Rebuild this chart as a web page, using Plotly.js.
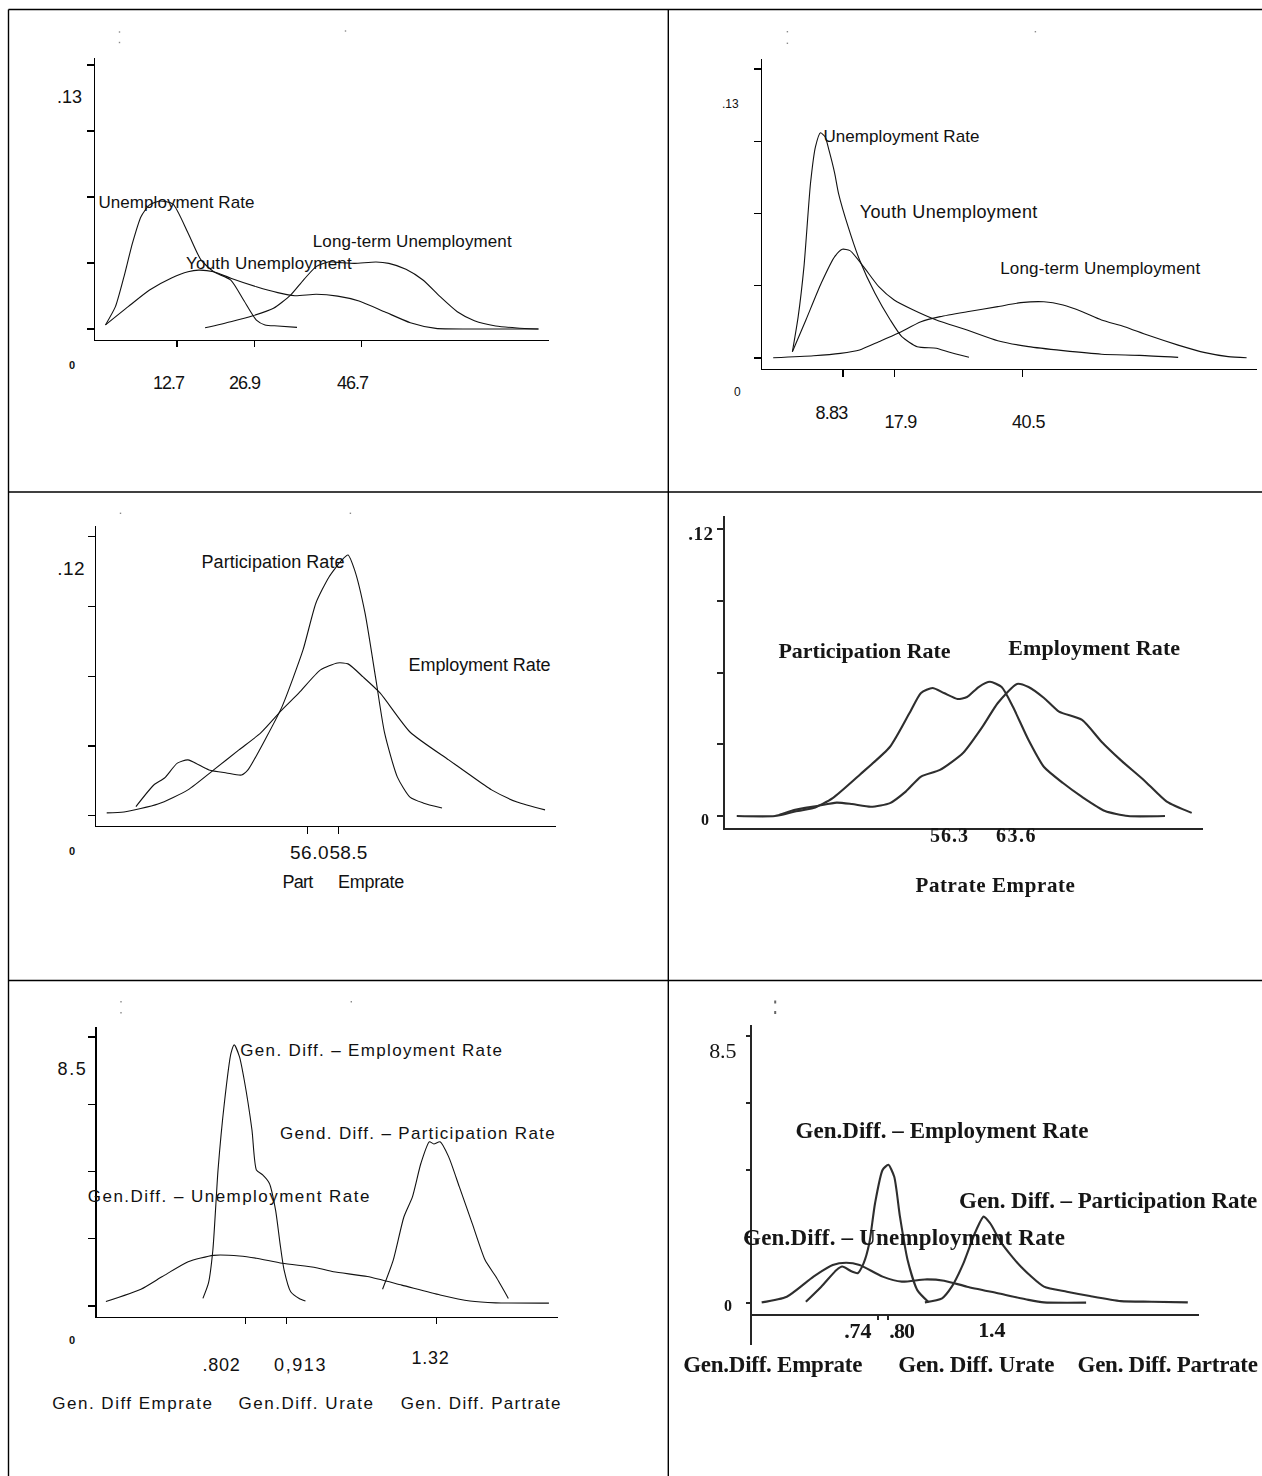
<!DOCTYPE html>
<html>
<head>
<meta charset="utf-8">
<script src="https://cdn.plot.ly/plotly-3.0.1.min.js"></script>
<style>
  html, body { margin: 0; padding: 0; background: #fff; }
  #chart { width: 1262px; height: 1476px; }
</style>
</head>
<body>
<div id="chart"></div>
<script>
// ---------- Kernel density estimates ----------

// Panel 1: unemployment indicators (period A)
const p1UnempX = [-0.47, 1.36, 2.94, 4.50, 6.07, 7.65, 9.57, 11.96, 14.73, 17.12, 19.46, 22.61, 24.96, 27.32, 28.91, 31.26, 34.80];
const p1UnempY = [0.0020, 0.0110, 0.0258, 0.0423, 0.0553, 0.0611, 0.0630, 0.0615, 0.0473, 0.0340, 0.0282, 0.0241, 0.0143, 0.0044, 0.0020, 0.0015, 0.0008];
const p1YouthX = [-0.47, 3.71, 7.65, 11.60, 14.73, 16.70, 19.46, 22.61, 27.32, 31.26, 34.41, 38.34, 42.28, 46.22, 50.93, 55.67, 60.38, 66.66, 79.27];
const p1YouthY = [0.0020, 0.0110, 0.0192, 0.0250, 0.0282, 0.0290, 0.0282, 0.0250, 0.0208, 0.0179, 0.0164, 0.0171, 0.0162, 0.0138, 0.0085, 0.0031, 0.0003, 0, 0];
const p1LongX = [17.87, 22.61, 26.53, 30.47, 33.62, 35.98, 38.34, 40.69, 43.07, 45.43, 49.35, 51.72, 54.87, 58.00, 61.17, 64.32, 67.47, 71.39, 75.32, 79.27];
const p1LongY = [0.0006, 0.0036, 0.0064, 0.0102, 0.0167, 0.0241, 0.0307, 0.0331, 0.0326, 0.0323, 0.0330, 0.0323, 0.0294, 0.0241, 0.0159, 0.0085, 0.0041, 0.0015, 0.0005, 0];
const p1XTicks = [12.7, 26.9, 46.7];
const p1YTicks = [0, 0.0325, 0.065, 0.0975, 0.13];

// Panel 2: unemployment indicators (period B)
const p2UnempX = [-0.08, 0.94, 1.96, 3.11, 3.99, 4.87, 5.68, 6.35, 7.37, 8.04, 9.73, 11.75, 14.46, 17.16, 19.18, 21.89, 25.27, 27.30, 31.01];
const p2UnempY = [0.0028, 0.0186, 0.0411, 0.0786, 0.0951, 0.1013, 0.0995, 0.0936, 0.0831, 0.0741, 0.0591, 0.0441, 0.0291, 0.0171, 0.0096, 0.0051, 0.0044, 0.0028, 0.0003];
const p2YouthX = [-0.08, 2.30, 4.99, 7.37, 8.71, 10.06, 12.44, 15.13, 17.84, 21.22, 25.27, 30.68, 36.08, 41.49, 47.58, 54.34, 61.08, 67.84];
const p2YouthY = [0.0028, 0.0171, 0.0336, 0.0456, 0.0489, 0.0483, 0.0411, 0.0321, 0.0261, 0.0216, 0.0171, 0.0126, 0.0078, 0.0051, 0.0033, 0.0017, 0.0012, 0.0003];
const p2LongX = [-3.46, 3.64, 8.37, 11.75, 15.13, 18.51, 22.56, 25.94, 30.68, 36.08, 40.13, 44.20, 47.58, 50.96, 54.34, 58.39, 62.44, 67.84, 72.58, 76.65, 79.89];
const p2LongY = [0.0001, 0.0010, 0.0021, 0.0036, 0.0073, 0.0111, 0.0163, 0.0186, 0.0208, 0.0231, 0.0249, 0.0253, 0.0238, 0.0208, 0.0171, 0.0141, 0.0103, 0.0058, 0.0024, 0.0006, 0.0001];
const p2XTicks = [8.83, 17.9, 40.5];
const p2YTicks = [0, 0.0325, 0.065, 0.0975, 0.13];

// Panel 3: participation and employment rates (period A)
const p3PartX = [42.06, 43.51, 44.38, 45.42, 46.28, 47.99, 49.41, 50.63, 51.15, 52.53, 53.91, 55.62, 56.67, 57.73, 58.78, 59.27, 59.81, 60.65, 61.54, 62.24, 63.28, 64.30, 65.36, 66.90];
const p3PartY = [0.0039, 0.0132, 0.0162, 0.0226, 0.0240, 0.0197, 0.0184, 0.0175, 0.0197, 0.0326, 0.0468, 0.0713, 0.0915, 0.1027, 0.1100, 0.1121, 0.1056, 0.0872, 0.0584, 0.0356, 0.0166, 0.0080, 0.0055, 0.0033];
const p3EmpX = [39.69, 41.09, 43.85, 46.28, 48.37, 50.42, 52.19, 53.91, 55.29, 57.04, 58.43, 59.27, 60.49, 61.87, 64.30, 67.44, 68.83, 70.92, 72.99, 75.26];
const p3EmpY = [0.0012, 0.0016, 0.0050, 0.0111, 0.0197, 0.0283, 0.0356, 0.0455, 0.0528, 0.0627, 0.0657, 0.0653, 0.0597, 0.0528, 0.0360, 0.0240, 0.0188, 0.0111, 0.0059, 0.0025];
const p3XTicks = [56.0, 58.5];
const p3YTicks = [0, 0.03, 0.06, 0.09, 0.12];

// Panel 4: participation and employment rates (period B)
const p4PartX = [32.23, 36.52, 38.66, 40.85, 43.01, 46.03, 49.45, 51.64, 52.93, 54.22, 55.51, 57.03, 58.10, 59.40, 60.68, 61.99, 63.27, 65.01, 66.75, 68.88, 71.02, 73.60, 76.19, 80.34];
const p4PartY = [0, 0, 0.0018, 0.0033, 0.0075, 0.0172, 0.0290, 0.0431, 0.0515, 0.0536, 0.0515, 0.0490, 0.0498, 0.0540, 0.0562, 0.0540, 0.0456, 0.0318, 0.0205, 0.0138, 0.0080, 0.0021, 0, 0];
const p4EmpX = [36.97, 38.66, 41.29, 43.45, 45.18, 47.31, 49.45, 51.21, 52.93, 55.06, 57.65, 59.84, 61.56, 63.72, 65.01, 66.75, 68.43, 71.02, 73.21, 75.37, 77.95, 80.54, 83.34];
const p4EmpY = [0.0004, 0.0025, 0.0042, 0.0056, 0.0050, 0.0039, 0.0054, 0.0102, 0.0165, 0.0193, 0.0264, 0.0374, 0.0473, 0.0553, 0.0540, 0.0494, 0.0437, 0.0402, 0.0311, 0.0234, 0.0151, 0.0060, 0.0013];
const p4XLabels = [56.3, 63.6];
const p4YTicks = [0, 0.03, 0.06, 0.09, 0.12];

// Panel 5: gender differences (period A)
const p5EmpX = [0.686, 0.701, 0.713, 0.727, 0.744, 0.762, 0.771, 0.785, 0.798, 0.819, 0.831, 0.848, 0.866, 0.883, 0.895, 0.906, 0.924, 0.947, 0.964];
const p5EmpY = [0.24, 0.72, 1.77, 4.30, 6.40, 7.98, 8.25, 7.88, 7.14, 5.56, 4.30, 4.14, 3.88, 3.03, 1.98, 1.14, 0.45, 0.24, 0.16];
const p5PartX = [1.173, 1.202, 1.231, 1.254, 1.277, 1.300, 1.312, 1.329, 1.352, 1.381, 1.416, 1.451, 1.480, 1.514];
const p5PartY = [0.53, 1.45, 2.82, 3.45, 4.51, 5.19, 5.12, 5.19, 4.72, 3.77, 2.61, 1.45, 0.93, 0.24];
const p5UnempX = [0.423, 0.518, 0.576, 0.646, 0.715, 0.785, 0.831, 0.901, 0.993, 1.040, 1.132, 1.225, 1.329, 1.410, 1.480, 1.624];
const p5UnempY = [0.14, 0.53, 0.93, 1.40, 1.60, 1.58, 1.51, 1.35, 1.21, 1.08, 0.93, 0.66, 0.35, 0.16, 0.10, 0.09];
const p5XTicks = [0.802, 0.913, 1.32];
const p5XTickText = ['.802', '0,913', '1.32'];
const p5YTicks = [0, 2.125, 4.25, 6.375, 8.5];

// Panel 6: gender differences (period B)
const p6EmpX = [0.326, 0.415, 0.503, 0.536, 0.592, 0.625, 0.659, 0.692, 0.725, 0.769, 0.802, 0.836, 0.869, 0.913, 0.969, 1.035];
const p6EmpY = [0.05, 0.53, 1.06, 1.17, 1.01, 0.96, 1.27, 1.91, 3.18, 4.25, 4.41, 4.03, 2.76, 1.38, 0.42, 0.03];
const p6PartX = [1.013, 1.112, 1.168, 1.235, 1.301, 1.352, 1.389, 1.456, 1.566, 1.700, 1.832, 1.965, 2.143, 2.320, 2.530];
const p6PartY = [0.03, 0.16, 0.53, 1.27, 2.23, 2.76, 2.55, 1.91, 1.17, 0.53, 0.37, 0.23, 0.07, 0.05, 0.03];
const p6UnempX = [0.071, 0.216, 0.370, 0.481, 0.559, 0.636, 0.769, 0.880, 1.013, 1.124, 1.256, 1.434, 1.611, 1.700, 1.943];
const p6UnempY = [0.03, 0.21, 0.85, 1.22, 1.29, 1.22, 0.85, 0.69, 0.76, 0.72, 0.53, 0.32, 0.11, 0.03, 0.02];
const p6XTicks = [0.74, 0.80];
const p6XTickText = ['.74', '.80'];
const p6XLabel = 1.4;
const p6YTicks = [0, 2.125, 4.25, 6.375, 8.5];

// ---------- Page geometry ----------
const W = 1262, H = 1476;
const fx = p => p / W;        // pixel column -> paper x
const fy = p => 1 - p / H;    // pixel row -> paper y

const SANS = '"Liberation Sans", Arial, sans-serif';
const NARROW = '"Liberation Sans Narrow", "Liberation Sans", Arial, sans-serif';
const SERIF = '"Liberation Serif", "Times New Roman", serif';
const INK = '#111111';
const SCAN = '#2f2f2f';

// Plot boxes in pixels: x = [left, right], y = [top, bottom]
const panels = [
  { x: [95, 549],    y: [58, 340],    xr: [-2.40, 81.21],  yr: [-0.00542, 0.13343], xt: p1XTicks, yt: p1YTicks, xl: 6, yl: 7, scan: false },
  { x: [762, 1257],  y: [59, 369],    xr: [-5.43, 81.72],  yr: [-0.00495, 0.1345],  xt: p2XTicks, yt: p2YTicks, xl: 7, yl: 7, scan: false },
  { x: [96, 555.5],  y: [526, 826],   xr: [38.82, 76.11],  yr: [-0.00443, 0.1246],  xt: p3XTicks, yt: p3YTicks, xl: 7, yl: 7, scan: false },
  { x: [725, 1203],  y: [516, 827.7], xr: [30.91, 84.61],  yr: [-0.0049, 0.1256],   xt: [],       yt: p4YTicks, xl: 0, yl: 6, scan: true },
  { x: [96.6, 557.7],y: [1027, 1316.7],xr: [0.3978, 1.6478],yr: [-0.338, 8.815],    xt: p5XTicks, yt: p5YTicks, xl: 6, yl: 7, scan: false },
  { x: [752, 1199],  y: [1025, 1345], xr: [0.0152, 2.5946], yr: [-1.328, 8.863],    xt: p6XTicks, yt: p6YTicks, xl: 4, yl: 4, scan: true, xAt: 1315 }
];

const layout = {
  width: W, height: H,
  margin: { l: 0, r: 0, t: 0, b: 0, pad: 0 },
  paper_bgcolor: '#ffffff', plot_bgcolor: 'rgba(0,0,0,0)',
  showlegend: false, hovermode: false,
  annotations: [], shapes: []
};

panels.forEach((p, i) => {
  const n = i === 0 ? '' : String(i + 1);
  const lc = p.scan ? '#262626' : '#000000';
  const lw = p.scan ? 2 : 1.2;
  const xa = {
    domain: [fx(p.x[0]), fx(p.x[1])], range: p.xr,
    anchor: p.xAt ? 'free' : 'y' + n,
    showline: true, linecolor: lc, linewidth: lw,
    ticks: p.xt.length ? 'outside' : '', tickvals: p.xt, ticklen: p.xl, tickwidth: lw, tickcolor: lc,
    showticklabels: false, showgrid: false, zeroline: false, fixedrange: true
  };
  if (p.xAt) xa.position = fy(p.xAt);
  layout['xaxis' + n] = xa;
  layout['yaxis' + n] = {
    domain: [fy(p.y[1]), fy(p.y[0])], range: p.yr, anchor: 'x' + n,
    showline: true, linecolor: lc, linewidth: lw,
    ticks: 'outside', tickvals: p.yt, ticklen: p.yl, tickwidth: lw, tickcolor: lc,
    showticklabels: false, showgrid: false, zeroline: false, fixedrange: true
  };
});

// ---------- Curves ----------
function curve(x, y, panelIndex) {
  const n = panelIndex === 0 ? '' : String(panelIndex + 1);
  const scan = panels[panelIndex].scan;
  return {
    type: 'scatter', mode: 'lines', x: x, y: y,
    xaxis: 'x' + n, yaxis: 'y' + n, hoverinfo: 'skip',
    line: { color: scan ? SCAN : INK, width: scan ? 2.1 : 1.1, shape: 'spline', smoothing: 0.6 }
  };
}

const traces = [
  curve(p1UnempX, p1UnempY, 0), curve(p1YouthX, p1YouthY, 0), curve(p1LongX, p1LongY, 0),
  curve(p2UnempX, p2UnempY, 1), curve(p2YouthX, p2YouthY, 1), curve(p2LongX, p2LongY, 1),
  curve(p3PartX, p3PartY, 2), curve(p3EmpX, p3EmpY, 2),
  curve(p4PartX, p4PartY, 3), curve(p4EmpX, p4EmpY, 3),
  curve(p5EmpX, p5EmpY, 4), curve(p5PartX, p5PartY, 4), curve(p5UnempX, p5UnempY, 4),
  curve(p6EmpX, p6EmpY, 5), curve(p6PartX, p6PartY, 5), curve(p6UnempX, p6UnempY, 5)
];

// ---------- Text ----------
const spans = [];   // wanted text width per annotation (0 = natural)
const soft = [];    // labels belonging to the scanned panels
function label(t, cx, cy, size, family, span, weight) {
  layout.annotations.push({
    xref: 'paper', yref: 'paper', x: fx(cx), y: fy(cy),
    xanchor: 'center', yanchor: 'middle', showarrow: false, text: t,
    font: { family: family, size: size, color: family === SERIF ? '#151515' : INK, weight: weight || 'normal' }
  });
  spans.push(span || 0);
  soft.push(family === SERIF);
}
const fmt2 = v => v.toFixed(2).replace(/^0/, '');

// Panel 1
label(fmt2(p1YTicks[4]), 69.5, 97, 18, NARROW, 25);
label(String(p1YTicks[0]), 72, 365, 11, SANS, 0, 'bold');
label(String(p1XTicks[0]), 168, 383, 18, NARROW, 31);
label(String(p1XTicks[1]), 244, 383, 18, NARROW, 31);
label(String(p1XTicks[2]), 352, 383, 18, NARROW, 31);
label('Unemployment Rate', 176, 202, 17, NARROW, 156);
label('Youth Unemployment', 269, 263, 17, NARROW, 166);
label('Long-term Unemployment', 412.5, 242, 17, NARROW, 199);

// Panel 2
label(fmt2(p2YTicks[4]), 730, 104, 12, SANS, 0);
label(String(p2YTicks[0]), 737, 392, 12, SANS, 0);
label(String(p2XTicks[0]), 831, 413, 18, NARROW, 32);
label(String(p2XTicks[1]), 900, 422, 18, NARROW, 32);
label(String(p2XTicks[2]), 1028, 422, 18, NARROW, 33);
label('Unemployment Rate', 901, 136, 17, NARROW, 156);
label('Youth Unemployment', 948, 212, 18, SANS, 178);
label('Long-term Unemployment', 1100, 269, 17, NARROW, 200);

// Panel 3
label(fmt2(p3YTicks[4]), 71, 568, 19, NARROW, 28);
label(String(p3YTicks[0]), 72, 851, 11, SANS, 0, 'bold');
label(p3XTicks[0].toFixed(1), 309.4, 852, 19, NARROW, 39);
label(p3XTicks[1].toFixed(1), 348, 852, 19, NARROW, 38);
label('Part', 297, 882, 18, NARROW, 30);
label('Emprate', 370.7, 882, 18, NARROW, 66);
label('Participation Rate', 273.4, 562, 18, NARROW, 143);
label('Employment Rate', 479, 665, 18, NARROW, 142);

// Panel 4
label(fmt2(p4YTicks[4]), 701, 533, 19, SERIF, 25, 'bold');
label(String(p4YTicks[0]), 705, 819, 16, SERIF, 0, 'bold');
label(p4XLabels[0].toFixed(1), 949, 835, 20, SERIF, 39, 'bold');
label(p4XLabels[1].toFixed(1), 1016, 835, 20, SERIF, 41, 'bold');
label('Patrate Emprate', 995, 885, 21, SERIF, 160, 'bold');
label('Participation Rate', 865, 650, 22, SERIF, 172, 'bold');
label('Employment Rate', 1094, 647, 22, SERIF, 172, 'bold');

// Panel 5
label(String(p5YTicks[4]), 72.6, 1069, 18, NARROW, 30);
label(String(p5YTicks[0]), 72, 1340, 11, SANS, 0, 'bold');
label(p5XTickText[0], 221, 1365, 18, NARROW, 38);
label(p5XTickText[1], 300, 1365, 18, NARROW, 53);
label(p5XTickText[2], 430.5, 1358, 18, NARROW, 38);
label('Gen. Diff Emprate', 132.5, 1403, 17, NARROW, 161);
label('Gen.Diff. Urate', 306.6, 1403, 17, NARROW, 136);
label('Gen. Diff. Partrate', 481.4, 1403, 17, NARROW, 161);
label('Gen. Diff. – Employment Rate', 372, 1050, 17, NARROW, 263);
label('Gend. Diff. – Participation Rate', 417.7, 1133, 17, NARROW, 276);
label('Gen.Diff. – Unemployment Rate', 229, 1196, 17, NARROW, 283);

// Panel 6
label(String(p6YTicks[4]), 723.4, 1050, 22, SERIF, 27);
label(String(p6YTicks[0]), 728.3, 1305.5, 16, SERIF, 0, 'bold');
label(p6XTickText[0], 858, 1330, 22, SERIF, 27, 'bold');
label(p6XTickText[1], 902, 1330, 22, SERIF, 25, 'bold');
label(p6XLabel.toFixed(1), 992, 1329, 22, SERIF, 27, 'bold');
label('Gen.Diff. Emprate', 772, 1364, 23, SERIF, 179, 'bold');
label('Gen. Diff. Urate', 975.7, 1364, 23, SERIF, 156, 'bold');
label('Gen. Diff. Partrate', 1167, 1364, 23, SERIF, 180, 'bold');
label('Gen.Diff. – Employment Rate', 941.6, 1130, 23, SERIF, 293, 'bold');
label('Gen. Diff. – Participation Rate', 1108, 1200, 23, SERIF, 298, 'bold');
label('Gen.Diff. – Unemployment Rate', 904, 1237, 23, SERIF, 322, 'bold');

// ---------- Table rules ----------
function rule(x0, y0, x1, y1) {
  layout.shapes.push({
    type: 'line', xref: 'paper', yref: 'paper',
    x0: fx(x0), y0: fy(y0), x1: fx(x1), y1: fy(y1),
    line: { color: '#000000', width: 1.4 }
  });
}
rule(8.5, 9.5, W, 9.5);
rule(8.5, 9.5, 8.5, H);
rule(668.3, 9.5, 668.3, H);
rule(8.5, 492, W, 492);
rule(8.5, 980.5, W, 980.5);

// small marker specks above each plot
function speck(cx, cy, w, h, c) {
  layout.shapes.push({
    type: 'rect', xref: 'paper', yref: 'paper',
    x0: fx(cx - w / 2), x1: fx(cx + w / 2), y0: fy(cy + h / 2), y1: fy(cy - h / 2),
    line: { width: 0 }, fillcolor: c
  });
}
[[119.5, 32], [119.5, 42.5], [345.5, 31], [787.4, 31.7], [787.4, 43.3], [1035.4, 31.7],
 [120.5, 513.3], [350.4, 513.3], [121, 1001.7], [121, 1012.7], [351.3, 1001.7]]
  .forEach(s => speck(s[0], s[1], 1.4, 1.4, '#8a8a8a'));
speck(775.2, 1002, 2, 3, '#666666');
speck(775.2, 1012.5, 2, 3, '#666666');

// soft-focus filter for the scanned panels
function addSoftFilter(svg, id) {
  const NS = 'http://www.w3.org/2000/svg';
  let defs = svg.querySelector('defs');
  if (!defs) { defs = document.createElementNS(NS, 'defs'); svg.insertBefore(defs, svg.firstChild); }
  const f = document.createElementNS(NS, 'filter');
  f.setAttribute('id', id);
  f.setAttribute('filterUnits', 'userSpaceOnUse');
  f.setAttribute('x', '-3000'); f.setAttribute('y', '-3000');
  f.setAttribute('width', '8000'); f.setAttribute('height', '8000');
  const b = document.createElementNS(NS, 'feGaussianBlur');
  b.setAttribute('stdDeviation', '0.65');
  f.appendChild(b);
  defs.appendChild(f);
}

const el = document.getElementById('chart');
Plotly.newPlot(el, traces, layout, { staticPlot: true, displayModeBar: false }).then(() => {
  const svgs = el.querySelectorAll('svg.main-svg');
  svgs.forEach((s, k) => addSoftFilter(s, 'soft' + k));
  const idOf = node => {
    const s = node.ownerSVGElement;
    return 'url(#soft' + Array.prototype.indexOf.call(svgs, s) + ')';
  };
  ['x4y4', 'x6y6'].forEach(sp => {
    const g = el.querySelector('g.subplot.' + sp);
    if (g) g.setAttribute('filter', idOf(g));
  });
  // spread lettering so each label fills its intended width
  el.querySelectorAll('g.annotation').forEach(g => {
    const i = +g.getAttribute('data-index');
    const t = g.querySelector('text.annotation-text');
    if (!t) return;
    const w = spans[i];
    if (w) {
      const n = t.textContent.length;
      const natural = t.getComputedTextLength();
      const ls = Math.max(-1.5, (w - natural) / n);
      t.style.letterSpacing = ls.toFixed(2) + 'px';
    }
    if (soft[i]) g.setAttribute('filter', idOf(g));
  });
});
</script>
</body>
</html>
